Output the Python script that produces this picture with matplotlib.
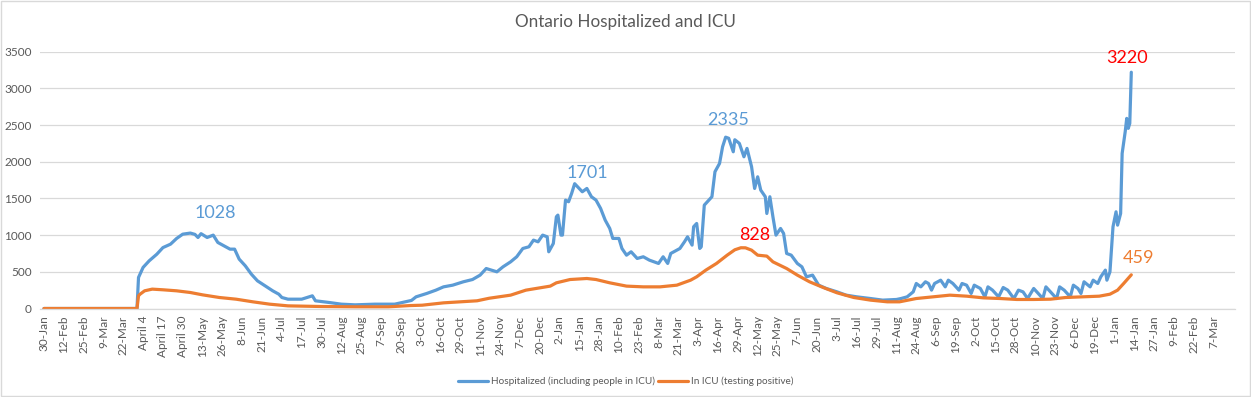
import matplotlib
matplotlib.use("Agg")
import matplotlib.pyplot as plt
from matplotlib.patches import Rectangle
import numpy as np

plt.rcParams['font.family'] = ['Lato', 'DejaVu Sans']

# ---- data (day index from 30-Jan-2020, value) ----
hosp_days = [0, 61, 62, 65, 69, 74, 78, 83, 87, 91, 96, 99, 101, 103, 107, 111, 114, 118, 122, 125,
             128, 132, 136, 140, 145, 150, 154, 156, 160, 169, 176, 178, 187, 195, 204, 217, 230, 237,
             241, 244, 251, 257, 262, 268, 275, 281, 286, 290, 297, 301, 306, 310, 314, 318, 321, 324,
             327, 330, 331, 334, 336, 337, 339, 340, 342, 344, 346, 348, 351, 353, 356, 359, 362, 365,
             368, 371, 373, 377, 379, 382, 385, 389, 393, 397, 403, 406, 409, 411, 413, 417, 420, 422,
             425, 426, 428, 430, 431, 433, 436, 438, 440, 443, 445, 447, 449, 452, 453, 456, 459, 461,
             464, 466, 468, 470, 473, 474, 476, 478, 480, 483, 485, 487, 490, 494, 497, 500, 504, 508,
             513, 520, 526, 533, 542, 550, 559, 562, 566, 570, 572, 575, 578, 580, 582, 584, 588, 591,
             593, 596, 600, 602, 605, 608, 610, 614, 617, 619, 622, 626, 629, 632, 636, 639, 642, 645,
             649, 652, 655, 657, 661, 664, 666, 669, 673, 675, 678, 680, 682, 686, 688, 691, 693, 696,
             697, 699, 701, 703, 704, 706, 707, 709, 710, 711, 712, 713]
hosp_vals = [0, 0, 423, 560, 650, 740, 830, 877, 955, 1013, 1028, 1010, 968, 1020, 968, 1000, 900, 855, 809, 809,
             673, 582, 468, 377, 309, 241, 195, 150, 127, 127, 173, 105, 82, 59, 50, 59, 59, 91,
             110, 159, 205, 250, 295, 318, 364, 395, 455, 545, 500, 568, 636, 705, 818, 841, 932, 909,
             1000, 977, 773, 886, 1250, 1273, 1000, 1000, 1477, 1455, 1568, 1701, 1636, 1591, 1636, 1523, 1477, 1364,
             1205, 1091, 955, 955, 818, 727, 773, 682, 705, 659, 614, 705, 614, 750, 773, 818, 909, 977,
             864, 1114, 1159, 818, 841, 1409, 1477, 1523, 1864, 1977, 2205, 2335, 2320, 2136, 2300, 2250, 2068, 2182,
             1932, 1636, 1795, 1614, 1523, 1295, 1523, 1250, 1000, 1091, 1023, 750, 727, 614, 568, 432, 455, 318,
             273, 227, 182, 159, 136, 114, 123, 136, 159, 227, 341, 295, 364, 341, 250, 341, 386, 295,
             386, 341, 250, 341, 318, 205, 318, 273, 159, 295, 250, 159, 286, 250, 136, 250, 227, 136,
             273, 205, 136, 295, 205, 136, 295, 250, 159, 318, 273, 205, 364, 295, 386, 341, 432, 523,
             386, 500, 1114, 1318, 1136, 1295, 2114, 2409, 2591, 2455, 2523, 3220]

icu_days = [0, 61, 62, 63, 66, 71, 78, 87, 96, 104, 115, 126, 137, 148, 160, 182, 204, 226, 240, 248,
            262, 284, 292, 306, 316, 332, 336, 345, 356, 362, 371, 382, 393, 404, 415, 424, 428, 434,
            441, 448, 453, 457, 460, 464, 468, 474, 478, 487, 494, 502, 511, 520, 531, 542, 553, 561,
            572, 583, 594, 605, 616, 627, 638, 649, 660, 670, 681, 692, 699, 704, 708, 713]
icu_vals = [0, 0, 173, 195, 241, 264, 255, 241, 218, 186, 150, 127, 91, 59, 36, 27, 23, 23, 40, 45,
            77, 105, 140, 182, 250, 305, 350, 395, 409, 395, 350, 305, 295, 295, 318, 386, 432, 523,
            614, 727, 800, 828, 827, 795, 727, 714, 636, 545, 455, 364, 286, 214, 150, 114, 91, 91,
            136, 159, 182, 168, 145, 136, 123, 123, 127, 150, 159, 168, 195, 250, 341, 459]

tick_labels = ["30-Jan", "12-Feb", "25-Feb", "9-Mar", "22-Mar", "April 4", "April 17", "April 30",
               "13-May", "26-May", "8-Jun", "21-Jun", "4-Jul", "17-Jul", "30-Jul", "12-Aug", "25-Aug",
               "7-Sep", "20-Sep", "3-Oct", "16-Oct", "29-Oct", "11-Nov", "24-Nov", "7-Dec", "20-Dec",
               "2-Jan", "15-Jan", "28-Jan", "10-Feb", "23-Feb", "8-Mar", "21-Mar", "3-Apr", "16-Apr",
               "29-Apr", "12-May", "25-May", "7-Jun", "20-Jun", "3-Jul", "16-Jul", "29-Jul", "11-Aug",
               "24-Aug", "6-Sep", "19-Sep", "2-Oct", "15-Oct", "28-Oct", "10-Nov", "23-Nov", "6-Dec",
               "19-Dec", "1-Jan", "14-Jan", "27-Jan", "9-Feb", "22-Feb", "7-Mar"]
tick_step = 13

BLUE = "#5B9BD5"
ORANGE = "#ED7D31"
GRAY = "#595959"
GRID = "#D9D9D9"

fig = plt.figure(figsize=(12.51, 3.97), dpi=100)
ax = fig.add_axes([40 / 1251, 88.5 / 397, 1195 / 1251, 256.8 / 397])

l1, = ax.plot(hosp_days, hosp_vals, color=BLUE, lw=2.3, solid_joinstyle='round',
              solid_capstyle='round', label="Hospitalized (including people in ICU)")
l2, = ax.plot(icu_days, icu_vals, color=ORANGE, lw=2.3, solid_joinstyle='round',
              solid_capstyle='round', label="In ICU (testing positive)")

ax.set_ylim(0, 3500)
ax.set_xlim(-2.6, 781)
ax.set_yticks(np.arange(0, 3501, 500))
ax.set_xticks(np.arange(len(tick_labels)) * tick_step)
ax.set_xticklabels(tick_labels, rotation=90, fontsize=8.5, color=GRAY)
ax.tick_params(axis='y', labelsize=8.5, labelcolor=GRAY, length=0, pad=6)
ax.tick_params(axis='x', length=0, pad=5)
ax.grid(axis='y', color=GRID, lw=0.9)
ax.set_axisbelow(True)
for s in ['top', 'right', 'left']:
    ax.spines[s].set_visible(False)
ax.spines['bottom'].set_color(GRID)
ax.spines['bottom'].set_linewidth(0.9)

# annotations
ax.text(112, 1300, "1028", color=BLUE, fontsize=13, ha='center', va='center')
ax.text(356.5, 1845, "1701", color=BLUE, fontsize=13, ha='center', va='center')
ax.text(448.5, 2568, "2335", color=BLUE, fontsize=13, ha='center', va='center')
ax.text(466, 1001, "828", color="#FF0000", fontsize=13, ha='center', va='center')
ax.text(710, 3410, "3220", color="#FF0000", fontsize=13, ha='center', va='center')
ax.text(717.5, 688, "459", color=ORANGE, fontsize=13, ha='center', va='center')

fig.text(0.5, 1 - 22 / 397, "Ontario Hospitalized and ICU", ha='center', va='center',
         fontsize=12.3, color=GRAY)

fig.legend(handles=[l1, l2], loc='center', bbox_to_anchor=(0.5, 15.5 / 397), ncol=2,
           frameon=False, fontsize=7.2, labelcolor=GRAY, handlelength=3.0, columnspacing=0.3,
           handletextpad=0.3)

fig.add_artist(Rectangle((0.0008, 0.0025), 0.9984, 0.995, transform=fig.transFigure,
                         fill=False, edgecolor=GRID, lw=1.0))

fig.savefig("out.png", dpi=100)
